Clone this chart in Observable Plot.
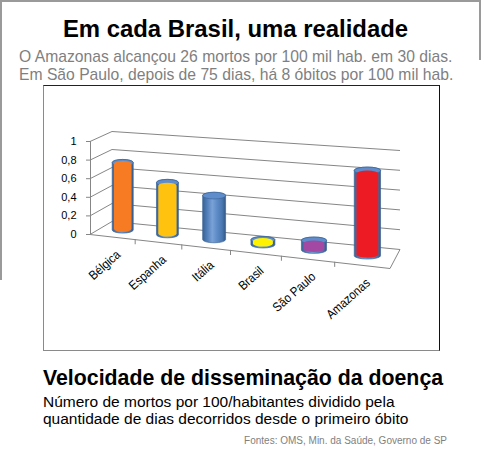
<!DOCTYPE html>
<html lang="pt">
<head>
<meta charset="utf-8">
<script src="https://cdn.jsdelivr.net/npm/d3@7"></script>
<script src="https://cdn.jsdelivr.net/npm/@observablehq/plot@0.6"></script>
<style>
html,body{margin:0;padding:0;background:#fff;}
#page{position:relative;width:481px;height:450px;overflow:hidden;background:#fff;font-family:"Liberation Sans",Arial,sans-serif;}
#page svg.chart3d{position:absolute;left:0;top:0;}
.t{position:absolute;white-space:nowrap;}
#title{left:0;width:471px;text-align:center;top:16.8px;font-size:23.9px;line-height:23.9px;font-weight:bold;color:#000;}
#subtitle{left:19px;top:47.6px;font-size:15.7px;line-height:18px;color:#7f7f7f;}
#frame{position:absolute;left:43px;top:85px;width:395px;height:264px;border-top:1px solid #222;border-right:1px solid #111;border-left:1px solid #8a8a8a;border-bottom:1px solid #8a8a8a;}
#btitle{left:43px;top:368px;font-size:21.3px;line-height:21.3px;font-weight:bold;color:#000;}
#desc{left:43px;top:392.6px;font-size:15.5px;line-height:17.3px;color:#000;}
#source{right:34px;top:435.8px;font-size:10px;line-height:10px;color:#7f7f7f;}
.edge{position:absolute;background:#9a9a9a;}
</style>
</head>
<body>
<div id="page">
  <svg width="0" height="0" style="position:absolute">
    <defs>
      <linearGradient id="cylBody" x1="0" x2="1" y1="0" y2="0">
        <stop offset="0" stop-color="#3A6294"/>
        <stop offset="0.18" stop-color="#4D7CB7"/>
        <stop offset="0.42" stop-color="#7AA2D6"/>
        <stop offset="0.62" stop-color="#5E8CC7"/>
        <stop offset="0.85" stop-color="#4A77B0"/>
        <stop offset="1" stop-color="#345886"/>
      </linearGradient>
    </defs>
  </svg>
  <div class="edge" style="left:0;top:0;width:481px;height:2px"></div>
  <div class="edge" style="left:0;top:0;width:2px;height:280px"></div>
  <div class="edge" style="left:479px;top:0;width:2px;height:60px"></div>
  <div id="frame"></div>
  <div id="chart"></div>
  <div class="t" id="title">Em cada Brasil, uma realidade</div>
  <div class="t" id="subtitle">O Amazonas alcançou 26 mortos por 100 mil hab. em 30 dias.<br>Em São Paulo, depois de 75 dias, há 8 óbitos por 100 mil hab.</div>
  <div class="t" id="btitle">Velocidade de disseminação da doença</div>
  <div class="t" id="desc">Número de mortos por 100/habitantes dividido pela<br>quantidade de dias decorridos desde o primeiro óbito</div>
  <div class="t" id="source">Fontes: OMS, Min. da Saúde, Governo de SP</div>
</div>
<script>
// ---- data ----
const categories = ["Bélgica", "Espanha", "Itália", "Brasil", "São Paulo", "Amazonas"];
const values = [0.73, 0.56, 0.47, 0.05, 0.1, 0.89];
const paintColors = ["#F77B22", "#FFC20E", null, "#FFF200", "#A349A4", "#ED1C24"];
const paintedCap = [true, false, false, true, false, false];
const yTicks = [0, 0.2, 0.4, 0.6, 0.8, 1];
const yTickLabels = ["0", "0,2", "0,4", "0,6", "0,8", "1"];

const rows = categories.map((name, i) => ({name, i, value: values[i], paint: paintColors[i], cap: paintedCap[i]}));
const painted = rows.filter(d => d.paint);
const n = categories.length;

// perspective along the category axis
const R = 1.143;
const persp = p => { const t = (p + 0.5) / n; return t / (t + R * (1 - t)); };
const HW = 0.24, E = 0.036;
const GRID = "#868686";

const W = 481, H = 450, ML = 90, MR = 91, MT = 141, MB = 216;

const chart = Plot.plot({
  width: W, height: H,
  marginLeft: ML, marginRight: MR, marginTop: MT, marginBottom: MB,
  className: "chart3d",
  style: {background: "transparent", overflow: "visible", fontFamily: "'Liberation Sans', Arial, sans-serif", fontSize: "11px", color: "#000"},
  x: {type: "linear", domain: [0, 1], transform: persp, axis: null},
  y: {type: "linear", domain: [0, 1], axis: null},
  color: {type: "identity"},
  marks: [
    Plot.ruleY(yTicks, {x1: -0.5, x2: n - 0.5, stroke: GRID, ariaDescription: "backwall"}),
    Plot.ruleY(yTicks, {x1: -0.5, x2: -0.5, stroke: GRID, ariaDescription: "leftwall"}),
    Plot.ruleY([0], {x1: -0.5, x2: n - 0.5, stroke: GRID, ariaDescription: "floorfront"}),
    Plot.ruleY([0], {x1: n - 0.5, x2: n - 0.5, stroke: GRID, ariaDescription: "floorright"}),
    Plot.ruleX([-0.5], {y1: 0, y2: 1, stroke: GRID}),
    Plot.axisY(yTicks, {anchor: "left", tickSize: 4, tickPadding: 10, stroke: GRID, fill: "#000", fontSize: 11, label: null,
      tickFormat: d => yTickLabels[yTicks.indexOf(d)]}),
    Plot.ruleX(d3.range(1, n).map(k => k - 0.5), {y1: 0, y2: -0.055, stroke: GRID, ariaDescription: "front"}),
    Plot.text(rows, {x: "i", y: 0, text: "name", rotate: -45, textAnchor: "end", dx: 6, dy: 15, fontSize: 12, fill: "#000", ariaDescription: "front"}),
    Plot.rect(rows, {x1: d => d.i - HW, x2: d => d.i + HW, y1: -E, y2: d => d.value + E, rx: 20, ry: 3.2,
      fill: "url(#cylBody)", stroke: "#3B6598", strokeWidth: 0.7, ariaDescription: "cyl"}),
    Plot.rect(rows, {x1: d => d.i - HW, x2: d => d.i + HW, y1: d => d.value - E, y2: d => d.value + E, rx: 20, ry: 3.2,
      fill: "#5F8DCB", stroke: "#3B6598", strokeWidth: 0.7, ariaDescription: "cyl"}),
    Plot.rect(painted, {x1: d => d.i - HW + 0.04, x2: d => d.i + HW - 0.04, y1: -E * 0.6,
      y2: d => d.cap ? d.value + E * 0.55 : d.value, rx: 20, ry: 3, fill: "paint", ariaDescription: "cyl"})
  ]
});
chart.classList.add("chart3d");
document.getElementById("chart").appendChild(chart);

// ---- pseudo-3D projection of the flat Plot drawing ----
const X0 = ML, X1 = W - MR, Y0 = H - MB;
const FS = 34 / (X1 - X0);               // slope of the floor's front edge
const BL = [112, 221], BR = [400, 249];  // back corners of the floor
const HB = [90 / (Y0 - MT), 99 / (Y0 - MT)]; // height scale on back wall (left, right)
function proj(x, y, z) {
  const u = (x - X0) / (X1 - X0);
  const fx = x, fy = y + FS * (x - X0);
  const bx = BL[0] + u * (BR[0] - BL[0]);
  const hb = HB[0] + u * (HB[1] - HB[0]);
  const by = BL[1] + u * (BR[1] - BL[1]) + (y - Y0) * hb;
  return [fx + z * (bx - fx), fy + z * (by - fy)];
}
function setLine(l, a, b) {
  l.setAttribute("x1", a[0]); l.setAttribute("y1", a[1]);
  l.setAttribute("x2", b[0]); l.setAttribute("y2", b[1]);
}
const sel = d => chart.querySelectorAll(`[aria-description="${d}"]`);
const lineData = l => [+l.getAttribute("x1"), +l.getAttribute("x2"), +l.getAttribute("y1")];
sel("backwall").forEach(g => g.querySelectorAll("line").forEach(l => { const [a, b, y] = lineData(l); setLine(l, proj(a, y, 1), proj(b, y, 1)); }));
sel("leftwall").forEach(g => g.querySelectorAll("line").forEach(l => { const [a, , y] = lineData(l); setLine(l, proj(a, y, 0), proj(a, y, 1)); }));
sel("floorfront").forEach(g => g.querySelectorAll("line").forEach(l => { const [a, b, y] = lineData(l); setLine(l, proj(a, y, 0), proj(b, y, 0)); }));
sel("floorright").forEach(g => g.querySelectorAll("line").forEach(l => { const [a, , y] = lineData(l); setLine(l, proj(a, y, 0), proj(a, y, 1)); }));
sel("front").forEach(g => {
  const t = g.getAttribute("transform") || "";
  g.setAttribute("transform", `matrix(1,${FS},0,1,0,${-FS * X0}) ${t}`);
});
const Z = 0.5;
sel("cyl").forEach(g => g.querySelectorAll("rect").forEach(r => {
  const cx = +r.getAttribute("x") + (+r.getAttribute("width")) / 2;
  const p = proj(cx, Y0, Z);
  const u = (cx - X0) / (X1 - X0);
  const kx = 1 + Z * ((BR[0] - BL[0]) / (X1 - X0) - 1);
  const ky = 1 + Z * (HB[0] + u * (HB[1] - HB[0]) - 1);
  r.setAttribute("transform", `translate(${p[0]},${p[1]}) scale(${kx},${ky}) translate(${-cx},${-Y0})`);
}));
</script>
</body>
</html>
